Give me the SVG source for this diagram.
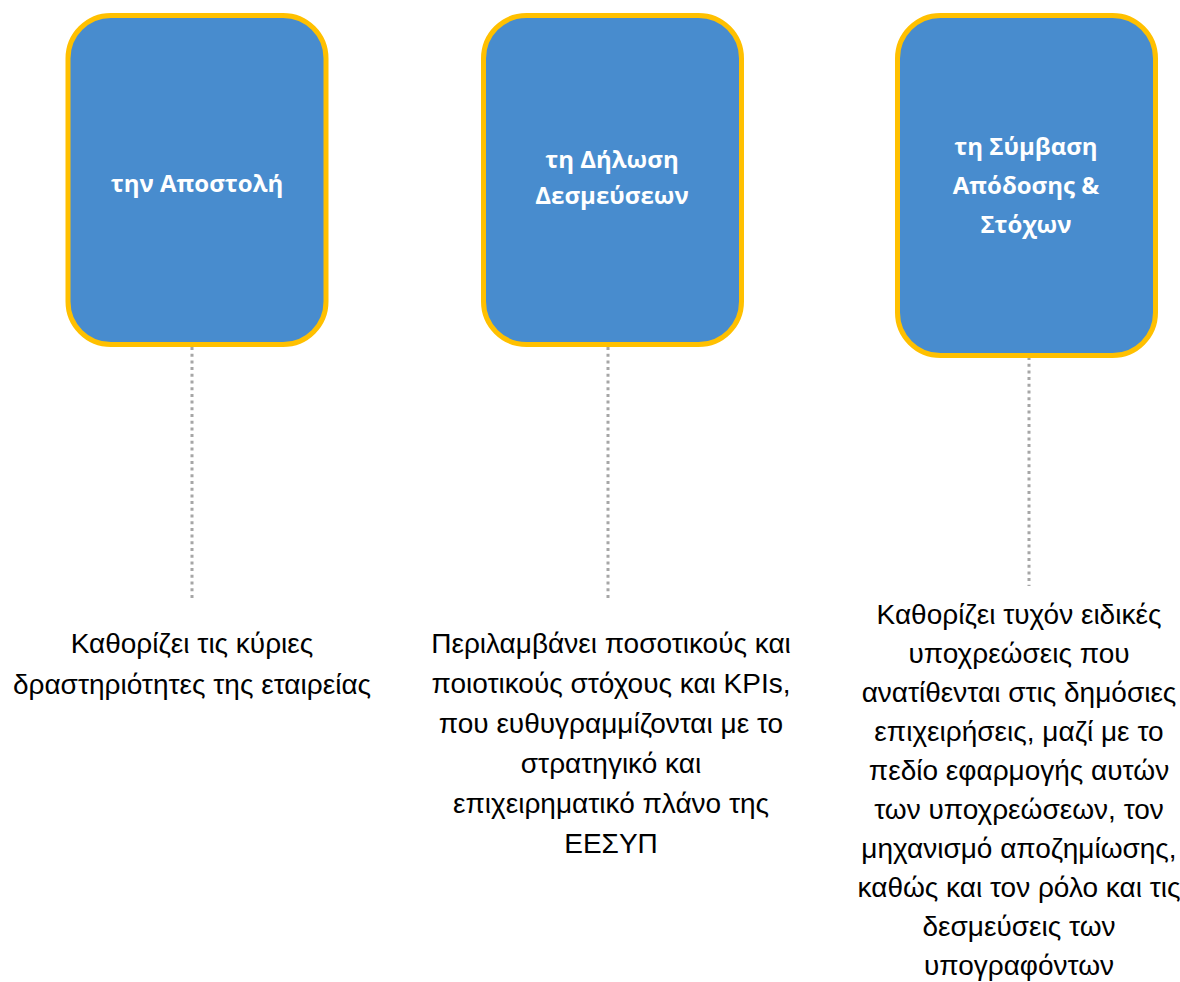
<svg xmlns="http://www.w3.org/2000/svg" width="1180" height="982" viewBox="0 0 1180 982">
<style>
.box{fill:#488CCE;stroke:#FFC000;stroke-width:5}
.lbl{font-family:"Open Sans","Noto Sans",sans-serif;font-weight:bold;font-size:24px;fill:#FFFFFF;text-anchor:middle}
.desc{font-family:"Liberation Sans","Noto Sans",sans-serif;font-size:28px;fill:#000000;text-anchor:middle}
.conn{stroke:#A6A6A6;stroke-width:3;stroke-dasharray:3 3.7;fill:none}
</style>
<rect width="1180" height="982" fill="#FFFFFF"/>
<g id="connectors">
<line class="conn" x1="192" y1="347" x2="192" y2="599"/>
<line class="conn" x1="608" y1="347" x2="608" y2="599"/>
<line class="conn" x1="1029" y1="357" x2="1029" y2="586"/>
</g>
<g id="node1">
<rect class="box" x="68" y="15.5" width="258" height="329" rx="43"/>
<text class="lbl" x="197" y="192">την Αποστολή</text>
</g>
<g id="node2">
<rect class="box" x="483.5" y="15.5" width="258" height="329" rx="43"/>
<text class="lbl" x="612" y="168">τη Δήλωση</text>
<text class="lbl" x="612" y="204">Δεσμεύσεων</text>
</g>
<g id="node3">
<rect class="box" x="897.5" y="15.5" width="258" height="340" rx="43"/>
<text class="lbl" x="1026" y="155">τη Σύμβαση</text>
<text class="lbl" x="1026" y="194">Απόδοσης &amp;</text>
<text class="lbl" x="1026" y="233">Στόχων</text>
</g>
<g id="desc1">
<text class="desc" x="192" y="653">Καθορίζει τις κύριες</text>
<text class="desc" x="192" y="694">δραστηριότητες της εταιρείας</text>
</g>
<g id="desc2">
<text class="desc" x="611" y="653">Περιλαμβάνει ποσοτικούς και</text>
<text class="desc" x="611" y="693">ποιοτικούς στόχους και KPIs,</text>
<text class="desc" x="611" y="733">που ευθυγραμμίζονται με το</text>
<text class="desc" x="611" y="773">στρατηγικό και</text>
<text class="desc" x="611" y="813">επιχειρηματικό πλάνο της</text>
<text class="desc" x="611" y="853">ΕΕΣΥΠ</text>
</g>
<g id="desc3">
<text class="desc" x="1019" y="624">Καθορίζει τυχόν ειδικές</text>
<text class="desc" x="1019" y="663">υποχρεώσεις που</text>
<text class="desc" x="1019" y="702">ανατίθενται στις δημόσιες</text>
<text class="desc" x="1019" y="741">επιχειρήσεις, μαζί με το</text>
<text class="desc" x="1019" y="780">πεδίο εφαρμογής αυτών</text>
<text class="desc" x="1019" y="819">των υποχρεώσεων, τον</text>
<text class="desc" x="1019" y="858">μηχανισμό αποζημίωσης,</text>
<text class="desc" x="1019" y="897">καθώς και τον ρόλο και τις</text>
<text class="desc" x="1019" y="936">δεσμεύσεις των</text>
<text class="desc" x="1019" y="975">υπογραφόντων</text>
</g>
</svg>
